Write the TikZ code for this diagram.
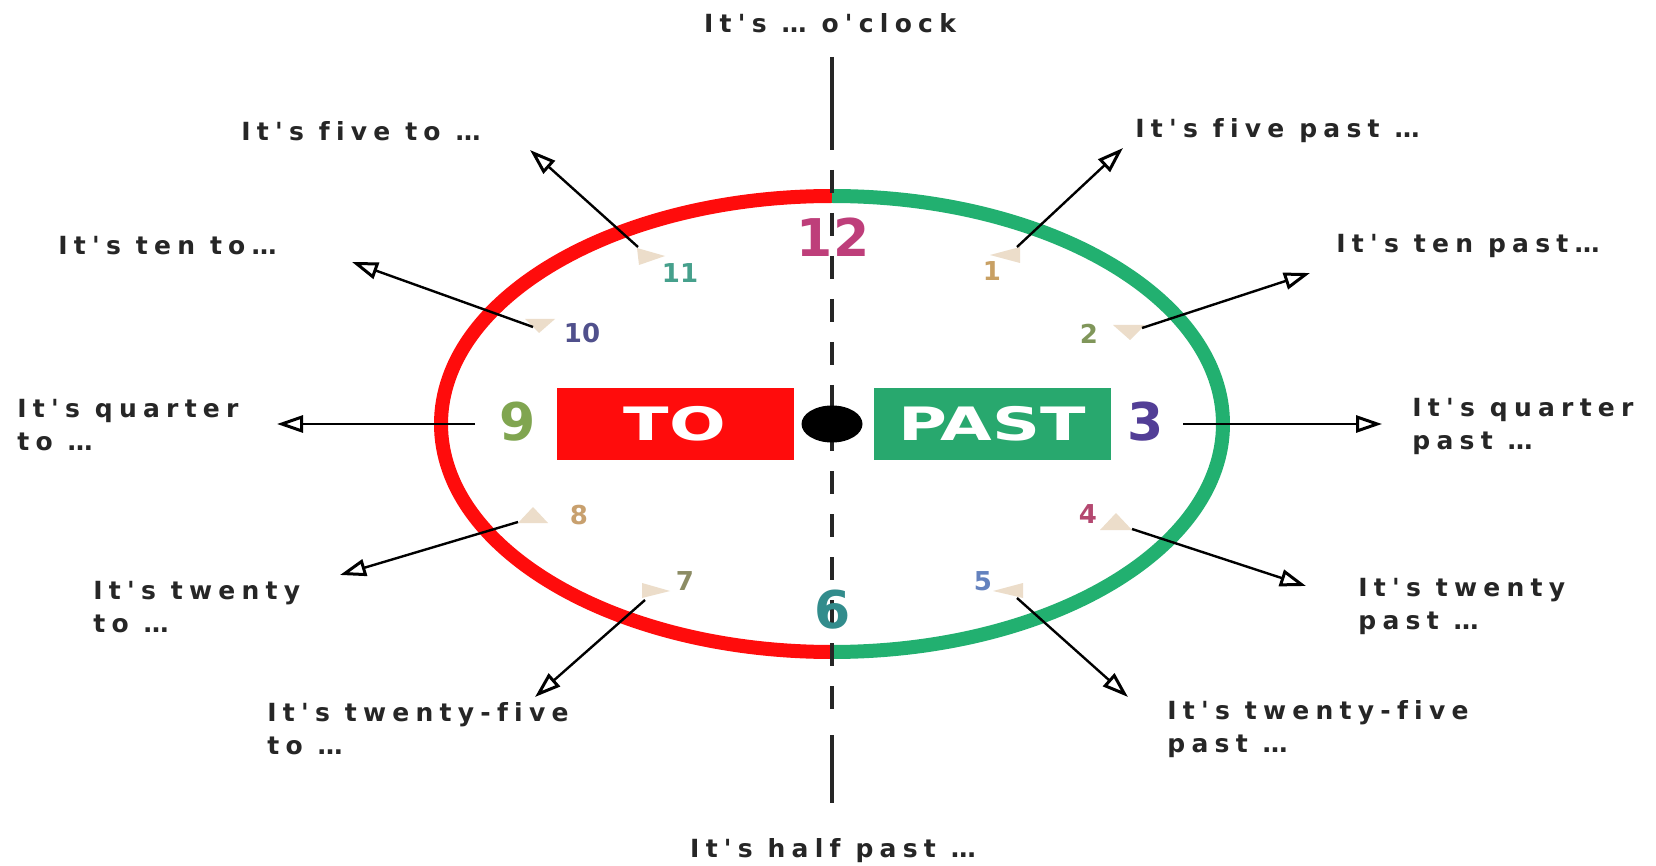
\documentclass[tikz,border=0pt]{standalone}
\usepackage{fontspec}
\usepackage{graphicx}
\usetikzlibrary{arrows.meta, shapes.geometric}

\newfontfamily\lblfont{DejaVu Sans}[LetterSpace=25, Ligatures=NoCommon]
\newfontfamily\numfont{DejaVu Sans}

\definecolor{clockred}{RGB}{255,12,12}
\definecolor{clockgreen}{RGB}{34,176,112}
\definecolor{pastgreen}{RGB}{40,168,110}
\definecolor{markbeige}{RGB}{236,221,202}
\definecolor{txtgray}{RGB}{38,38,38}
\definecolor{hour1}{RGB}{200,160,100}
\definecolor{hour2}{RGB}{128,150,90}
\definecolor{hour3}{RGB}{82,62,150}
\definecolor{hour4}{RGB}{180,72,112}
\definecolor{hour5}{RGB}{100,130,190}
\definecolor{hour6}{RGB}{50,140,140}
\definecolor{hour7}{RGB}{140,140,100}
\definecolor{hour8}{RGB}{200,160,110}
\definecolor{hour9}{RGB}{128,165,80}
\definecolor{hour10}{RGB}{80,80,140}
\definecolor{hour11}{RGB}{70,160,140}
\definecolor{hour12}{RGB}{190,62,122}

\begin{document}
\begin{tikzpicture}[
		x=0.5pt, y=-0.5pt,
		arrow/.style={-{Triangle[open, length=13pt, width=8.5pt, line width=1.5pt]}, line width=1.2pt},
		lbl/.style={font=\lblfont\bfseries\fontsize{12.5}{16.5}\selectfont, text=txtgray, align=left, inner sep=0pt, anchor=west},
		axis/.style={line width=2pt, black!85},
		ring/.style={line width=7pt},
		tobox/.style={rectangle, minimum width=118.5pt, minimum height=35.5pt, inner sep=0pt, text=white, font=\numfont\bfseries\fontsize{23}{23}\selectfont},
		hub/.style={ellipse, fill=black, minimum width=30.5pt, minimum height=18.5pt, inner sep=0pt},
		bignum/.style={inner sep=0pt, font=\numfont\bfseries\fontsize{26}{26}\selectfont},
		smallnum/.style={inner sep=0pt, font=\numfont\bfseries\fontsize{13}{13}\selectfont}
		]
		
		% 0. Canvas
		\fill[white] (0,0) rectangle (1656,866);
		\useasboundingbox (0,0) rectangle (1656,866);
		
		% 1. Clock ring: "to" half and "past" half
		\coordinate (ctr) at (832,424);
		\draw[ring, clockred] (ctr) ++(0,-228) arc[start angle=-90, end angle=-270, x radius=391, y radius=228];
		\draw[ring, clockgreen] (ctr) ++(0,-228) arc[start angle=-90, end angle=90, x radius=391, y radius=228];
		
		% 2. Vertical line from o'clock to half past
		\coordinate (ltop) at (832,57);
		\coordinate (ldash) at (832,150);
		\coordinate (dstart) at (832,170);
		\coordinate (dend) at (832,712);
		\coordinate (lsolid) at (832,735);
		\coordinate (lbot) at (832,803);
		\draw[axis] (ltop) -- (ldash);
		\draw[axis, dash pattern=on 11.5pt off 10pt] (dstart) -- (dend);
		\draw[axis] (lsolid) -- (lbot);
		
		% 3. TO / PAST boxes and hub
		\node[tobox, fill=clockred] (to) at (675,424) {\scalebox{1.45}[1]{TO}};
		\node[tobox, fill=pastgreen] (past) at (992,424) {\scalebox{1.45}[1]{PAST}};
		\node[hub] (hub) at (ctr) {};
		
		% 4. Hour numerals
		\node[bignum, text=hour12] (n12) at (833,237) {12};
		\node[bignum, text=hour3] (n3) at (1146,422) {3};
		\node[bignum, text=hour6] (n6) at (833,610) {6};
		\node[bignum, text=hour9] (n9) at (518,422) {9};
		\foreach \h/\x/\y in {1/992/271, 2/1089/334, 4/1088/514, 5/983/581,
			7/685/581, 8/579/515, 10/582/333, 11/680/273}
		\node[smallnum, text=hour\h] (n\h) at (\x,\y) {\h};
		
		% 5. Small pointers at the hours
		\fill[markbeige] (637,248) -- (665,256) -- (639,265) -- cycle;
		\fill[markbeige] (1020,247) -- (990,255) -- (1020,263) -- cycle;
		\fill[markbeige] (525,319) -- (555,319) -- (539,333) -- cycle;
		\fill[markbeige] (1113,325) -- (1145,325) -- (1130,340) -- cycle;
		\fill[markbeige] (518,523) -- (548,523) -- (533,507) -- cycle;
		\fill[markbeige] (1100,530) -- (1132,530) -- (1116,513) -- cycle;
		\fill[markbeige] (642,583) -- (670,591) -- (642,598) -- cycle;
		\fill[markbeige] (1023,583) -- (993,591) -- (1023,598) -- cycle;
		
		% 6. Arrows out to the phrases
		\foreach \k/\sx/\sy/\tx/\ty in {11/638/247/530/150, 1/1017/247/1123/148,
			10/533/327/352/262, 2/1142/328/1310/273,
			9/475/424/277/424, 3/1183/424/1382/424,
			8/518/522/340/575, 4/1132/529/1306/586,
			7/645/600/535/697, 5/1017/598/1128/697} {
			\coordinate (s\k) at (\sx,\sy);
			\coordinate (t\k) at (\tx,\ty);
			\draw[arrow] (s\k) -- (t\k);
		}
		
		% 7. Phrases
		\node[lbl, anchor=center] (oclock) at (830,23) {It's … o'clock};
		\node[lbl] (fiveto) at (241,131) {It's five to …};
		\node[lbl] (fivepast) at (1135,131) {It's five past …};
		\node[lbl] (tento) at (58,246) {It's ten to…};
		\node[lbl] (tenpast) at (1336,246) {It's ten past…};
		\node[lbl] (quarterto) at (17,425) {It's quarter\\to …};
		\node[lbl] (quarterpast) at (1412,426) {It's quarter\\past …};
		\node[lbl] (twentyto) at (93,607) {It's twenty\\to …};
		\node[lbl] (twentypast) at (1358,606) {It's twenty\\past …};
		\node[lbl] (twentyfiveto) at (267,729) {It's twenty-five\\to …};
		\node[lbl] (twentyfivepast) at (1167,729) {It's twenty-five\\past …};
		\node[lbl, anchor=center] (halfpast) at (833,851) {It's half past …};
	\end{tikzpicture}
\end{document}
